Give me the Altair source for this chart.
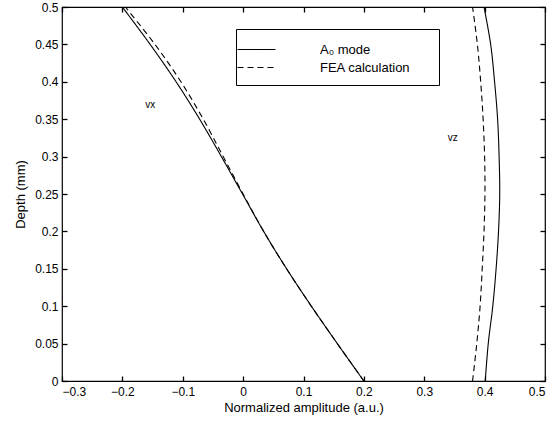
import altair as alt
import pandas as pd

# ---- data ----
depth = [0.0, 0.05, 0.10, 0.15, 0.20, 0.25, 0.30, 0.35, 0.40, 0.45, 0.50]

vx_a0 = [0.200, 0.156, 0.113, 0.072, 0.034, -0.001, -0.036, -0.072, -0.111, -0.154, -0.200]
vx_fea = [0.200, 0.156, 0.113, 0.072, 0.034, 0.000, -0.033, -0.066, -0.103, -0.146, -0.195]

vz_a0 = [0.401, 0.406, 0.4135, 0.419, 0.423, 0.425, 0.424, 0.4215, 0.4165, 0.410, 0.399]
vz_fea = [0.380, 0.387, 0.3925, 0.396, 0.399, 0.4005, 0.400, 0.3975, 0.3935, 0.388, 0.380]

series_names = ["A\u2080 mode", "FEA calculation"]

x_ticks = [-0.3, -0.2, -0.1, 0.0, 0.1, 0.2, 0.3, 0.4, 0.5]
y_ticks = [0.0, 0.05, 0.10, 0.15, 0.20, 0.25, 0.30, 0.35, 0.40, 0.45, 0.50]

ann_text = ["vx", "vz"]
ann_x = [-0.154, 0.347]
ann_y = [0.369, 0.325]

# ---- tables ----
rows = []
for comp, a0, fea in (("vx", vx_a0, vx_fea), ("vz", vz_a0, vz_fea)):
    for d, v in zip(depth, a0):
        rows.append({"amp": v, "depth": d, "series": series_names[0], "curve": comp + "_a0"})
    for d, v in zip(depth, fea):
        rows.append({"amp": v, "depth": d, "series": series_names[1], "curve": comp + "_fea"})
df = pd.DataFrame(rows)
ann = pd.DataFrame({"text": ann_text, "amp": ann_x, "depth": ann_y})

FONT = "Liberation Sans"
x_scale = alt.Scale(domain=[-0.3, 0.5], nice=False, zero=False)
y_scale = alt.Scale(domain=[0, 0.5], nice=False, zero=False)
INWARD = {"expr": "-5"}

pad = "\u00a0" * 5 + "\u200b"

lines = alt.Chart(df).mark_line(color="black", strokeWidth=1.1, interpolate="catmull-rom").encode(
    x=alt.X("amp:Q", scale=x_scale,
            axis=alt.Axis(orient="bottom", values=x_ticks, format="~g",
                          title="Normalized amplitude (a.u.)",
                          tickSize=INWARD, tickColor="black", tickWidth=1.3,
                          domain=False, grid=False, labelPadding=10,
                          titleY=20, titleBaseline="top")),
    y=alt.Y("depth:Q", scale=y_scale,
            axis=alt.Axis(orient="left", values=y_ticks, format="~g",
                          title="Depth (mm)", tickSize=INWARD,
                          tickColor="black", tickWidth=1.3,
                          domain=False, grid=False, labelPadding=9,
                          titleX=-42, titleY=187, titleBaseline="middle")),
    strokeDash=alt.StrokeDash(
        "series:N",
        scale=alt.Scale(domain=series_names, range=[[1, 0], [6, 4]]),
        legend=alt.Legend(title=None, orient="none", legendX=174, legendY=22,
                          direction="vertical", symbolType="M-2,0L2,0",
                          symbolSize=361, symbolStrokeWidth=1.1,
                          symbolStrokeColor="black", symbolFillColor="transparent",
                          labelFont=FONT,
                          labelFontSize=13, labelColor="black", labelOffset=53,
                          labelExpr="datum.label + '" + pad + "'",
                          strokeColor="black", fillColor="white",
                          padding=10, rowPadding=0),
    ),
    detail="curve:N",
    order="depth:Q",
)

ticks_tr = alt.Chart(df).mark_point(opacity=0).encode(
    x=alt.X("amp:Q", scale=x_scale,
            axis=alt.Axis(orient="top", values=x_ticks, labels=False, title=None,
                          tickSize=INWARD, tickColor="black", tickWidth=1.3,
                          domain=False, grid=False)),
    y=alt.Y("depth:Q", scale=y_scale,
            axis=alt.Axis(orient="right", values=y_ticks, labels=False, title=None,
                          tickSize=INWARD, tickColor="black", tickWidth=1.3,
                          domain=False, grid=False)),
)

labels = alt.Chart(ann).mark_text(font=FONT, fontSize=10, color="black").encode(
    x=alt.X("amp:Q", scale=x_scale, axis=None),
    y=alt.Y("depth:Q", scale=y_scale, axis=None),
    text="text:N",
)

chart = alt.layer(lines, ticks_tr, labels).resolve_axis(
    x="independent", y="independent"
).properties(
    width=483, height=374,
    padding={"left": 62, "top": 7, "right": 13, "bottom": 40},
    autosize=alt.AutoSizeParams(type="none"),
    background="white",
).configure_view(
    stroke="black", strokeWidth=1.2
).configure_axis(
    labelFont=FONT, labelFontSize=12, labelColor="black",
    titleFont=FONT, titleFontSize=13, titleColor="black", titleFontWeight="normal",
)

chart.save("out.html", embed_options={"renderer": "svg", "actions": False})
